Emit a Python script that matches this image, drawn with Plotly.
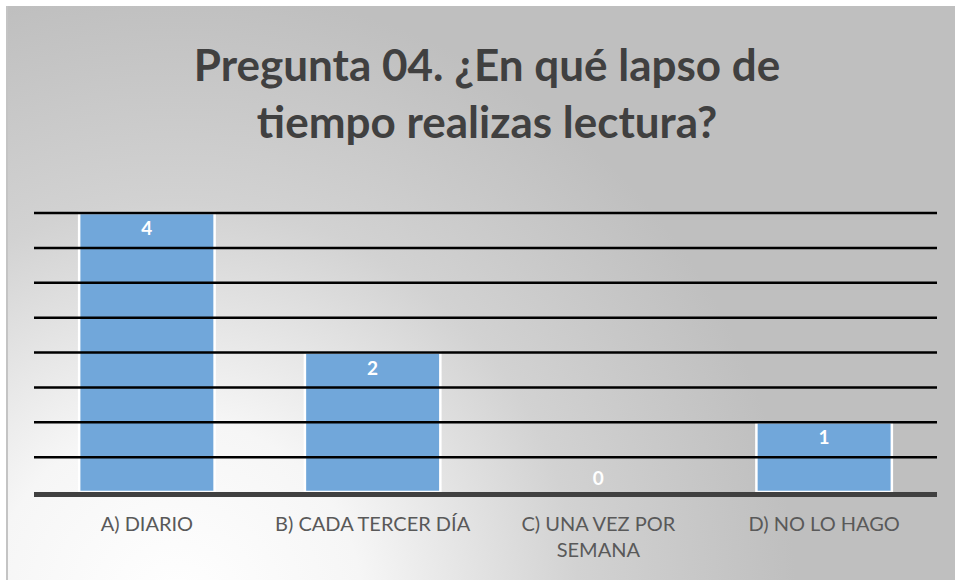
import base64
import plotly.graph_objects as go

# data
categorias = ["A) DIARIO", "B) CADA TERCER DÍA", "C) UNA VEZ POR<br>SEMANA", "D) NO LO HAGO"]
respuestas = [4, 2, 0, 1]
pos_texto = ["inside", "inside", "outside", "inside"]
grid_vals = [0.5, 1, 1.5, 2, 2.5, 3, 3.5, 4]

titulo = "Pregunta 04. ¿En qué lapso de<br>tiempo realizas lectura?"

W, H = 955, 580
ml, mr, mt, mb = 34, 18, 210, 88
pw, ph = W - ml - mr, H - mt - mb
ymax = 4 * ph / (ph - 3)  # a little headroom so the top gridline isn't clipped

# gradient background (white in lower left corner, grey elsewhere)
svg = """<svg xmlns='http://www.w3.org/2000/svg' width='949' height='574' viewBox='0 0 949 574'>
<defs><radialGradient id='g' gradientUnits='userSpaceOnUse' cx='170' cy='600' r='620'>
<stop offset='0' stop-color='#ffffff'/><stop offset='0.3' stop-color='#f6f6f6'/>
<stop offset='0.65' stop-color='#d2d2d2'/><stop offset='1' stop-color='#bfbfbf'/></radialGradient></defs>
<rect width='949' height='574' fill='url(#g)'/>
<line x1='1' y1='0' x2='1' y2='574' stroke='#c4c4c4' stroke-width='2'/>
</svg>"""
uri = "data:image/svg+xml;base64," + base64.b64encode(svg.encode()).decode()

fig = go.Figure()
fig.add_trace(go.Bar(
    x=categorias, y=respuestas,
    marker=dict(color="#71a7da",
                line=dict(color="white", width=[2.5 if v > 0 else 0 for v in respuestas])),
    text=[str(v) for v in respuestas], textposition=pos_texto,
    insidetextanchor="end",
    textfont=dict(family="Lato", size=19, color="white", weight="bold"),
    outsidetextfont=dict(family="Lato", size=19, color="white", weight="bold"),
    cliponaxis=False, hoverinfo="skip",
))

# black gridlines drawn over the bars, like the original
for g in grid_vals:
    fig.add_shape(type="line", xref="paper", yref="y", x0=0, x1=1, y0=g, y1=g,
                  line=dict(color="black", width=2.5), layer="above")

fig.add_layout_image(dict(
    source=uri, xref="paper", yref="paper",
    x=(6 - ml) / pw, y=(H - mb - 6) / ph,
    sizex=(W - 6) / pw, sizey=(H - 6) / ph,
    xanchor="left", yanchor="top", sizing="stretch", layer="below",
))

fig.update_layout(
    width=W, height=H,
    margin=dict(l=ml, r=mr, t=mt, b=mb),
    paper_bgcolor="white", plot_bgcolor="rgba(0,0,0,0)",
    title=dict(text=titulo, x=0.51, xanchor="center", y=0.86, yanchor="middle",
               font=dict(family="Lato", size=44, color="#404040", weight="bold")),
    bargap=0.4, showlegend=False,
    xaxis=dict(showline=True, linecolor="#404040", linewidth=5, showgrid=False,
               tickfont=dict(family="Lato", size=20, color="#595959"), ticks="",
               ticklabelstandoff=10, fixedrange=True),
    yaxis=dict(range=[0, ymax], showgrid=False, showticklabels=False, zeroline=False,
               fixedrange=True),
)

fig.write_html("out.html", config={"displayModeBar": False},
               post_script="document.body.style.margin='0px';")
